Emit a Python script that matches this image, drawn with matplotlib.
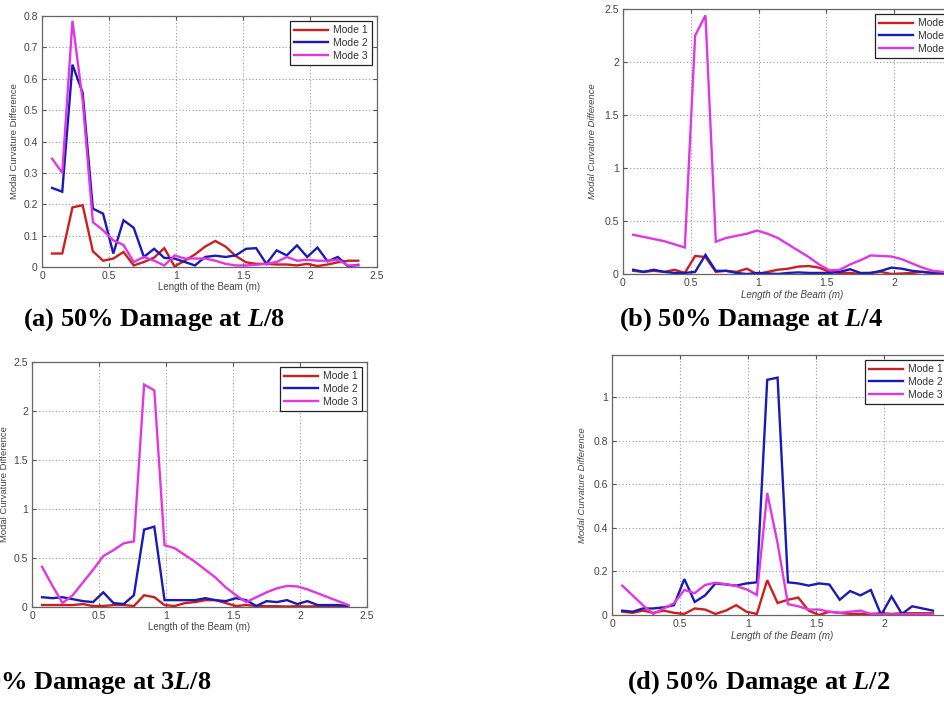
import numpy as np
import matplotlib
matplotlib.use("Agg")
import matplotlib.pyplot as plt

W, H = 945, 702

# ---------------- data ----------------
x = np.linspace(0.075, 2.36, 31)

a_mode1 = [0.043, 0.043, 0.190, 0.197, 0.050, 0.020, 0.027, 0.048, 0.005, 0.016, 0.030,
           0.060, 0.002, 0.020, 0.040, 0.065, 0.083, 0.065, 0.035, 0.015, 0.010, 0.010,
           0.008, 0.008, 0.005, 0.010, 0.003, 0.008, 0.015, 0.020, 0.020]
a_mode2 = [0.252, 0.240, 0.645, 0.555, 0.186, 0.170, 0.043, 0.149, 0.125, 0.032, 0.058,
           0.029, 0.027, 0.016, 0.005, 0.032, 0.036, 0.032, 0.037, 0.058, 0.060, 0.010,
           0.053, 0.037, 0.069, 0.032, 0.062, 0.018, 0.032, 0.002, 0.007]
a_mode3 = [0.345, 0.300, 0.785, 0.530, 0.143, 0.117, 0.085, 0.070, 0.016, 0.032, 0.020,
           0.005, 0.037, 0.027, 0.027, 0.027, 0.020, 0.010, 0.005, 0.005, 0.007, 0.010,
           0.016, 0.032, 0.020, 0.023, 0.020, 0.020, 0.023, 0.005, 0.005]

b_mode1 = [0.030, 0.020, 0.030, 0.020, 0.040, 0.010, 0.170, 0.160, 0.020, 0.030, 0.020,
           0.050, 0.000, 0.020, 0.040, 0.050, 0.070, 0.075, 0.060, 0.020, 0.010, 0.010,
           0.000, 0.010, 0.020, 0.000, 0.005, 0.010, 0.020, 0.010, 0.000]
b_mode2 = [0.040, 0.020, 0.040, 0.020, 0.010, 0.010, 0.020, 0.180, 0.030, 0.030, 0.010,
           0.000, 0.010, 0.005, 0.000, 0.010, 0.015, 0.010, 0.010, 0.010, 0.020, 0.045,
           0.010, 0.010, 0.030, 0.060, 0.050, 0.030, 0.020, 0.010, 0.010]
b_mode3 = [0.370, 0.350, 0.330, 0.310, 0.280, 0.250, 2.250, 2.440, 0.305, 0.340, 0.360,
           0.380, 0.410, 0.380, 0.340, 0.280, 0.220, 0.160, 0.090, 0.035, 0.040, 0.090,
           0.130, 0.175, 0.170, 0.165, 0.140, 0.100, 0.060, 0.030, 0.020]

c_mode1 = [0.020, 0.020, 0.020, 0.020, 0.030, 0.010, 0.010, 0.020, 0.020, 0.010, 0.120,
           0.100, 0.020, 0.010, 0.040, 0.050, 0.070, 0.070, 0.040, 0.010, 0.020, 0.010,
           0.008, 0.008, 0.005, 0.008, 0.005, 0.008, 0.005, 0.005, 0.005]
c_mode2 = [0.100, 0.090, 0.100, 0.080, 0.060, 0.050, 0.150, 0.040, 0.030, 0.120, 0.790,
           0.820, 0.070, 0.070, 0.070, 0.070, 0.090, 0.070, 0.060, 0.090, 0.070, 0.010,
           0.060, 0.050, 0.070, 0.030, 0.060, 0.020, 0.020, 0.020, 0.010]
c_mode3 = [0.410, 0.220, 0.040, 0.120, 0.250, 0.380, 0.520, 0.580, 0.650, 0.670, 2.270,
           2.210, 0.630, 0.600, 0.530, 0.460, 0.380, 0.300, 0.200, 0.120, 0.050, 0.100,
           0.150, 0.190, 0.215, 0.210, 0.180, 0.140, 0.100, 0.060, 0.020]

d_mode1 = [0.015, 0.010, 0.020, 0.010, 0.020, 0.010, 0.005, 0.030, 0.025, 0.005, 0.020,
           0.045, 0.015, 0.005, 0.160, 0.055, 0.070, 0.080, 0.020, 0.000, 0.015, 0.010,
           0.005, 0.005, 0.005, 0.008, 0.005, 0.008, 0.008, 0.008, 0.008]
d_mode2 = [0.020, 0.015, 0.030, 0.030, 0.035, 0.045, 0.165, 0.060, 0.090, 0.145, 0.140,
           0.135, 0.145, 0.150, 1.080, 1.090, 0.150, 0.145, 0.135, 0.145, 0.140, 0.070,
           0.110, 0.090, 0.115, 0.000, 0.085, 0.005, 0.040, 0.030, 0.020]
d_mode3 = [0.135, 0.090, 0.045, 0.005, 0.030, 0.054, 0.115, 0.100, 0.138, 0.148, 0.142,
           0.133, 0.118, 0.092, 0.560, 0.330, 0.050, 0.040, 0.025, 0.025, 0.015, 0.010,
           0.015, 0.020, 0.005, 0.003, 0.003, 0.003, 0.003, 0.003, 0.003]

legend_labels = ["Mode 1", "Mode 2", "Mode 3"]
captions = ["(a) 50% Damage at $L$/8", "(b) 50% Damage at $L$/4",
            "(c) 50% Damage at 3$L$/8", "(d) 50% Damage at $L$/2"]
xlabel_text = "Length of the Beam (m)"
ylabel_text = "Modal Curvature Difference"

# ---------------- style ----------------
plt.rcParams['font.family'] = ['Liberation Sans', 'DejaVu Sans']
plt.rcParams['mathtext.fontset'] = 'custom'
plt.rcParams['mathtext.it'] = 'Liberation Serif:bold:italic'
plt.rcParams['mathtext.rm'] = 'Liberation Serif:bold'

colors = ['#cc1f1f', '#1a1ab8', '#e236e2']

fig = plt.figure(figsize=(W / 100, H / 100), dpi=100)


def px_axes(l, t, r, b):
    return [l / W, 1 - b / H, (r - l) / W, (b - t) / H]


panels = [
    dict(rect=(42, 16, 377, 267), ylim=(0, 0.8), yticks=np.arange(0, 0.81, 0.1),
         data=(a_mode1, a_mode2, a_mode3), italic=False,
         ylab_x=19, xlab_y=282),
    dict(rect=(623, 9, 962, 274), ylim=(0, 2.5), yticks=np.arange(0, 2.51, 0.5),
         data=(b_mode1, b_mode2, b_mode3), italic=True,
         ylab_x=597, xlab_y=290),
    dict(rect=(32, 362, 367, 607), ylim=(0, 2.5), yticks=np.arange(0, 2.51, 0.5),
         data=(c_mode1, c_mode2, c_mode3), italic=False,
         ylab_x=9, xlab_y=622),
    dict(rect=(612, 355, 952, 615), ylim=(0, 1.194), yticks=np.arange(0, 1.01, 0.2),
         data=(d_mode1, d_mode2, d_mode3), italic=True,
         ylab_x=587, xlab_y=631),
]

for p in panels:
    l, t, r, b = p['rect']
    ax = fig.add_axes(px_axes(l, t, r, b))
    for series, c, lab in zip(p['data'], colors, legend_labels):
        ax.plot(x, series, color=c, lw=1.7, label=lab, solid_joinstyle='miter')
    ax.set_xlim(0, 2.5)
    ax.set_ylim(*p['ylim'])
    xt = np.arange(0, 2.51, 0.5)
    ax.set_xticks(xt)
    ax.set_yticks(p['yticks'])
    ax.set_xticklabels(['%g' % v for v in xt])
    ax.set_yticklabels(['%g' % round(v, 2) for v in p['yticks']])
    ax.grid(True, linestyle=(0, (1, 2)), color='#9a9a9a', lw=0.8)
    ax.tick_params(direction='in', length=3, width=0.8, colors='#555555',
                   labelsize=7.5, labelcolor='#444444', top=True, right=True, pad=3)
    for s in ax.spines.values():
        s.set_color('#666666')
        s.set_linewidth(0.9)
    style = 'italic' if p['italic'] else 'normal'
    ax.set_xlabel(xlabel_text, fontsize=7, color='#444444', style=style)
    ax.set_ylabel(ylabel_text, fontsize=6.8, color='#444444', style=style)
    ax.xaxis.set_label_coords(0.5, (H - p['xlab_y'] - (H - b)) / (b - t))
    ax.yaxis.set_label_coords((p['ylab_x'] - l) / (r - l), 0.5)
    leg = ax.legend(loc='upper right', fontsize=7.5, frameon=True, fancybox=False,
                    edgecolor='#222222', framealpha=1, handlelength=3.2,
                    borderpad=0.4, labelspacing=0.25, handletextpad=0.5,
                    borderaxespad=0.5)
    leg.get_frame().set_linewidth(0.9)
    for txt in leg.get_texts():
        txt.set_color('#333333')

cap_pos = [(23, 326), (619, 326), (-62, 689), (627, 689)]
for (cx, cy), cap in zip(cap_pos, captions):
    fig.text(cx / W, 1 - cy / H, cap, fontsize=19, fontweight='bold',
             family='Liberation Serif', ha='left', va='baseline', color='black')

fig.savefig('out.png', dpi=100)
